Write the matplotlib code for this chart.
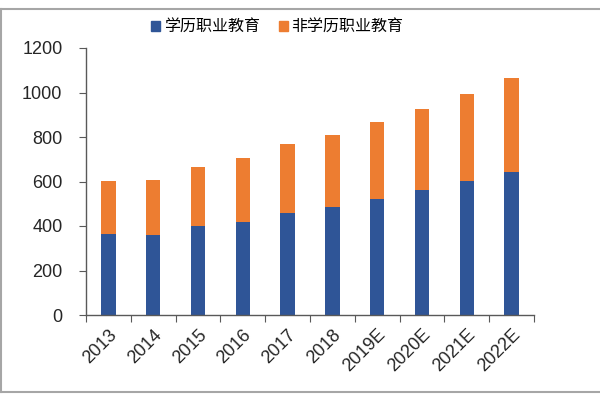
import matplotlib
matplotlib.use("Agg")
import matplotlib.pyplot as plt
from matplotlib.lines import Line2D
from matplotlib.patches import Patch

plt.rcParams['font.family'] = ['Liberation Sans', 'Noto Sans CJK SC', 'DejaVu Sans']

years = ['2013', '2014', '2015', '2016', '2017', '2018', '2019E', '2020E', '2021E', '2022E']
academic = [365, 358, 401, 418, 460, 485, 520, 562, 601, 643]
non_academic = [235, 247, 263, 287, 308, 324, 346, 365, 394, 421]
series_names = ['学历职业教育', '非学历职业教育']
yticks = [0, 200, 400, 600, 800, 1000, 1200]

blue = '#2F5597'
orange = '#ED7D31'

fig = plt.figure(figsize=(6, 4), dpi=100)
ax = fig.add_axes([86/600, 1-315/400, (534-86)/600, (315-48)/400])

x = list(range(len(years)))
ax.bar(x, academic, width=0.32, color=blue, zorder=2)
ax.bar(x, non_academic, bottom=academic, width=0.32, color=orange, zorder=2)

ax.set_xlim(-0.5, len(years) - 0.5)
ax.set_ylim(0, 1200)
ax.set_yticks(yticks)
ax.set_yticklabels([str(v) for v in yticks])

for s in ['top', 'right']:
    ax.spines[s].set_visible(False)
for s in ['left', 'bottom']:
    ax.spines[s].set_color('#595959')
    ax.spines[s].set_linewidth(1.0)

ax.set_xticks([i - 0.5 for i in range(len(years) + 1)])
ax.set_xticklabels([])
ax.set_xticks(x, minor=True)
ax.set_xticklabels(years, minor=True, rotation=45, ha='right', rotation_mode='anchor',
                   fontsize=13, color='#262626')
ax.tick_params(axis='x', which='major', length=5, direction='out', color='#595959')
ax.tick_params(axis='x', which='minor', length=0, pad=8)
ax.tick_params(axis='y', length=5, direction='out', color='#595959', labelsize=13,
               labelcolor='#262626', pad=12)

handles = [Patch(color=blue), Patch(color=orange)]
fig.legend(handles, series_names, loc='center', bbox_to_anchor=(0.462, 1-27/400), ncol=2,
           frameon=False, handlelength=0.6, handleheight=0.6,
           handletextpad=0.2, columnspacing=1.2,
           prop={'family': ['Noto Sans CJK SC', 'DejaVu Sans'], 'size': 11.5})

frame_c = '#A6A6A6'
fig.add_artist(Line2D([0, 1], [1-9/400, 1-9/400], color=frame_c, lw=1.5, transform=fig.transFigure))
fig.add_artist(Line2D([1/600, 1/600], [1-9/400, 1-392/400], color=frame_c, lw=1.5, transform=fig.transFigure))
fig.add_artist(Line2D([0, 1], [1-392/400, 1-392/400], color=frame_c, lw=1.5, transform=fig.transFigure))

fig.savefig('out.png', dpi=100)
